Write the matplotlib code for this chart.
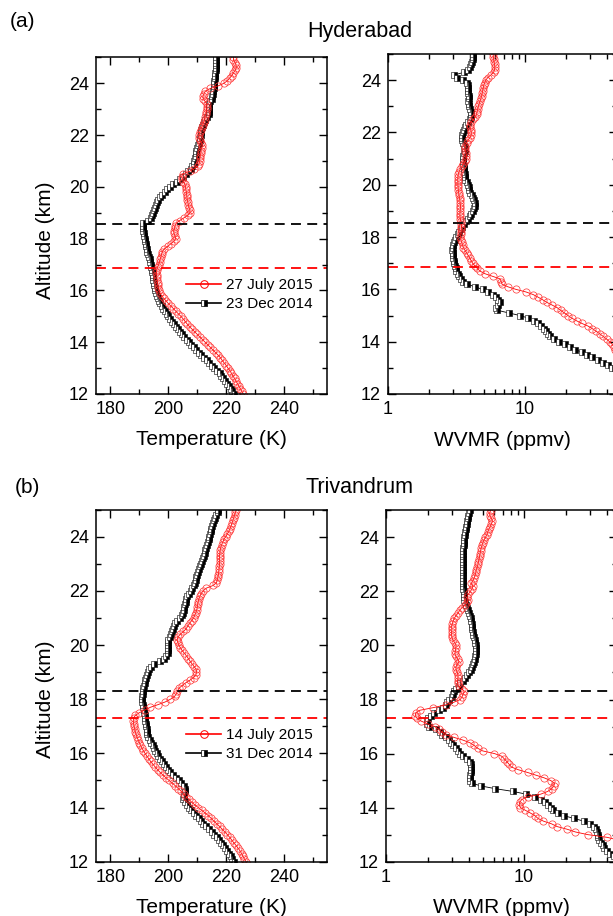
import matplotlib
matplotlib.use('Agg')
import matplotlib.pyplot as plt
from matplotlib.ticker import MultipleLocator, FixedLocator, FixedFormatter, LogLocator, NullFormatter

plt.rcParams['font.family'] = ['Liberation Sans', 'DejaVu Sans']

# ---------------- data ----------------
# altitude levels (km), shared by every profile
alt = [12.0, 12.1, 12.2, 12.3, 12.4, 12.5, 12.6, 12.7, 12.8, 12.9,
       13.0, 13.1, 13.2, 13.3, 13.4, 13.5, 13.6, 13.7, 13.8, 13.9,
       14.0, 14.1, 14.2, 14.3, 14.4, 14.5, 14.6, 14.7, 14.8, 14.9,
       15.0, 15.1, 15.2, 15.3, 15.4, 15.5, 15.6, 15.7, 15.8, 15.9,
       16.0, 16.1, 16.2, 16.3, 16.4, 16.5, 16.6, 16.7, 16.8, 16.9,
       17.0, 17.1, 17.2, 17.3, 17.4, 17.5, 17.6, 17.7, 17.8, 17.9,
       18.0, 18.1, 18.2, 18.3, 18.4, 18.5, 18.6, 18.7, 18.8, 18.9,
       19.0, 19.1, 19.2, 19.3, 19.4, 19.5, 19.6, 19.7, 19.8, 19.9,
       20.0, 20.1, 20.2, 20.3, 20.4, 20.5, 20.6, 20.7, 20.8, 20.9,
       21.0, 21.1, 21.2, 21.3, 21.4, 21.5, 21.6, 21.7, 21.8, 21.9,
       22.0, 22.1, 22.2, 22.3, 22.4, 22.5, 22.6, 22.7, 22.8, 22.9,
       23.0, 23.1, 23.2, 23.3, 23.4, 23.5, 23.6, 23.7, 23.8, 23.9,
       24.0, 24.1, 24.2, 24.3, 24.4, 24.5, 24.6, 24.7, 24.8, 24.9,
       25.0]

# Hyderabad temperature (K)
hyd_temp_jul = [226.0, 225.5, 225.0, 224.5, 224.0, 223.5, 223.0, 222.4, 221.9, 221.4,
                220.7, 220.1, 219.4, 218.7, 218.1, 217.3, 216.4, 215.5, 214.6, 213.7,
                212.8, 211.9, 211.0, 210.1, 209.2, 208.3, 207.4, 206.6, 205.9, 205.2,
                204.4, 203.5, 202.6, 201.8, 200.9, 200.0, 199.2, 198.4, 197.7, 197.2,
                196.9, 196.6, 196.4, 196.3, 196.2, 196.1, 196.0, 195.9, 196.0, 196.3,
                196.7, 197.0, 197.2, 197.5, 197.7, 198.0, 198.6, 199.8, 200.9, 202.0,
                202.6, 202.4, 202.0, 201.9, 202.2, 202.4, 202.8, 204.0, 205.4, 206.8,
                207.6, 207.5, 207.2, 207.0, 206.8, 206.6, 206.5, 206.4, 206.3, 206.1,
                206.0, 205.8, 205.3, 204.9, 204.7, 205.0, 207.4, 209.0, 210.3, 210.7,
                210.9, 211.0, 211.1, 211.3, 211.4, 211.6, 211.8, 211.5, 211.0, 210.6,
                210.7, 210.9, 211.3, 211.6, 212.0, 212.3, 212.6, 212.8, 213.0, 213.2,
                213.3, 213.4, 213.3, 212.8, 212.2, 212.0, 212.4, 212.9, 214.6, 217.3,
                219.3, 220.5, 221.3, 222.0, 222.6, 223.2, 223.6, 223.5, 223.2, 222.6,
                222.6]
hyd_temp_dec = [222.8, 222.2, 221.6, 221.0, 220.3, 219.6, 219.0, 218.4, 217.8, 216.9,
                216.0, 215.1, 214.2, 213.3, 212.4, 211.5, 210.6, 209.7, 208.8, 208.0,
                207.2, 206.4, 205.6, 204.8, 204.1, 203.4, 202.7, 202.0, 201.3, 200.7,
                200.1, 199.5, 198.9, 198.3, 197.7, 197.1, 196.7, 196.3, 196.0, 195.7,
                195.4, 195.3, 195.1, 195.0, 194.8, 194.7, 194.6, 194.5, 194.3, 194.2,
                194.0, 193.8, 193.6, 193.3, 193.0, 192.8, 192.6, 192.4, 192.2, 192.0,
                191.8, 191.6, 191.5, 191.4, 191.3, 191.3, 191.4, 193.0, 194.0, 194.4,
                194.8, 195.2, 195.5, 195.8, 196.2, 196.6, 197.2, 198.0, 198.8, 199.6,
                200.8, 201.8, 202.9, 204.2, 205.3, 206.1, 206.8, 207.8, 208.4, 208.8,
                209.1, 209.3, 209.5, 209.6, 209.7, 210.0, 210.3, 210.6, 210.9, 211.0,
                211.2, 211.4, 211.5, 211.8, 212.1, 212.4, 212.8, 213.4, 214.0, 214.1,
                214.2, 214.3, 214.3, 214.6, 215.0, 215.3, 215.5, 215.6, 215.7, 215.8,
                215.9, 216.0, 216.1, 216.2, 216.3, 216.4, 216.4, 216.5, 216.5, 216.6,
                216.6]

# Hyderabad water vapour mixing ratio (ppmv)
hyd_wv_jul = [95, 92, 89, 86, 82, 78, 74, 70, 66, 63,
              60, 57, 54, 52, 50, 48, 47, 45.5, 44.5, 43.5,
              41.5, 39.5, 37.3, 35.2, 33.1, 31.0, 28.8, 26.0, 23.8, 22.0,
              20.6, 19.4, 18.2, 17.2, 15.8, 14.5, 13.5, 12.5, 11.5, 10.2,
              8.6, 7.5, 6.8, 6.7, 6.6, 5.8, 5.1, 4.7, 4.5, 4.3,
              4.15, 4.05, 3.95, 3.85, 3.75, 3.65, 3.55, 3.5, 3.45, 3.4,
              3.38, 3.4, 3.42, 3.44, 3.44, 3.42, 3.4, 3.37, 3.35, 3.35,
              3.36, 3.38, 3.38, 3.36, 3.35, 3.33, 3.3, 3.28, 3.26, 3.25,
              3.24, 3.24, 3.23, 3.24, 3.26, 3.3, 3.38, 3.46, 3.55, 3.65,
              3.72, 3.74, 3.72, 3.68, 3.64, 3.66, 3.75, 3.85, 3.95, 4.05,
              4.06, 4.02, 3.98, 3.96, 4.05, 4.2, 4.35, 4.43, 4.48, 4.52,
              4.57, 4.63, 4.7, 4.77, 4.83, 4.87, 4.91, 4.95, 5.0, 5.08,
              5.18, 5.35, 5.65, 5.9, 6.0, 6.03, 6.0, 5.95, 5.9, 5.87,
              5.85]
hyd_wv_dec = [95, 90, 86, 82, 77, 72, 66, 59, 53, 47,
              43.5, 40.5, 37.0, 34.0, 31.0, 28.5, 26.0, 23.3, 21.3, 19.6,
              17.6, 16.2, 15.3, 14.8, 14.2, 13.7, 13.1, 12.4, 11.6, 10.6,
              9.2, 7.6, 6.3, 6.1, 6.4, 6.6, 6.4, 6.1, 5.8, 5.4,
              4.9, 4.3, 3.8, 3.5, 3.4, 3.3, 3.22, 3.16, 3.12, 3.08,
              3.05, 3.03, 3.0, 2.98, 2.96, 2.95, 2.96, 3.0, 3.05, 3.1,
              3.15, 3.22, 3.3, 3.4, 3.48, 3.58, 3.7, 3.82, 3.95, 4.07,
              4.18, 4.26, 4.31, 4.3, 4.25, 4.17, 4.08, 4.0, 3.93, 3.88,
              3.82, 3.75, 3.68, 3.64, 3.62, 3.6, 3.58, 3.56, 3.54, 3.52,
              3.52, 3.55, 3.6, 3.63, 3.64, 3.6, 3.54, 3.48, 3.45, 3.46,
              3.52, 3.58, 3.62, 3.7, 3.85, 3.95, 4.02, 4.06, 4.05, 3.95,
              3.9, 3.88, 3.87, 3.88, 3.88, 3.87, 3.86, 3.85, 3.82, 3.78,
              3.5, 3.2, 3.05, 3.6, 3.85, 3.98, 4.06, 4.1, 4.14, 4.17,
              4.19]

# Trivandrum temperature (K)
tvm_temp_jul = [227.0, 226.4, 225.9, 225.4, 224.9, 224.2, 223.5, 222.7, 222.0, 221.3,
                220.5, 219.6, 218.7, 217.8, 216.8, 215.8, 214.9, 213.9, 212.8, 211.6,
                210.4, 209.2, 208.1, 207.2, 206.3, 205.4, 204.5, 203.5, 202.5, 201.5,
                200.3, 199.2, 198.2, 197.2, 196.3, 195.5, 194.7, 193.9, 193.3, 192.6,
                192.0, 191.4, 190.9, 190.4, 190.0, 189.6, 189.2, 188.9, 188.6, 188.4,
                188.2, 188.0, 187.9, 188.0, 188.6, 190.0, 191.9, 193.8, 196.5, 199.0,
                200.8, 202.2, 202.8, 203.2, 203.7, 204.8, 206.0, 207.5, 208.8, 209.6,
                209.8, 209.7, 209.0, 208.3, 207.6, 207.0, 206.3, 205.6, 204.8, 204.2,
                203.7, 203.3, 203.1, 203.4, 204.2, 205.3, 206.2, 206.8, 207.4, 208.1,
                208.8, 209.2, 209.6, 209.9, 210.1, 210.2, 210.4, 210.6, 211.0, 211.4,
                212.1, 213.2, 215.6, 216.7, 217.0, 217.2, 217.4, 217.5, 217.6, 217.7,
                217.8, 217.8, 217.8, 217.8, 217.9, 218.0, 218.2, 218.5, 218.9, 219.3,
                219.9, 220.5, 221.0, 221.4, 221.8, 222.1, 222.4, 222.7, 223.0, 223.3,
                223.6]
tvm_temp_dec = [222.8, 222.2, 221.6, 220.9, 220.3, 219.6, 218.9, 218.2, 217.5, 216.8,
                215.9, 215.0, 214.1, 213.1, 212.2, 211.4, 210.6, 209.8, 209.0, 208.0,
                207.2, 206.4, 205.7, 205.2, 205.4, 205.6, 205.7, 205.8, 205.4, 204.5,
                203.6, 202.7, 201.7, 200.8, 200.0, 199.2, 198.4, 197.7, 197.1, 196.6,
                196.2, 195.6, 195.1, 194.6, 194.1, 193.6, 193.1, 192.8, 192.6, 192.5,
                192.4, 192.2, 192.1, 192.0, 191.8, 191.6, 191.5, 191.3, 191.2, 191.1,
                191.1, 191.1, 191.2, 191.2, 191.3, 191.5, 191.8, 192.1, 192.4, 192.8,
                193.1, 193.4, 194.0, 195.2, 197.3, 198.6, 199.3, 199.8, 199.9, 199.9,
                199.9, 199.9, 200.0, 200.5, 201.0, 201.4, 201.7, 202.0, 202.3, 203.2,
                204.2, 204.8, 205.1, 205.4, 205.6, 205.8, 206.0, 206.2, 206.5, 207.2,
                207.8, 208.4, 208.8, 209.2, 209.5, 209.8, 210.1, 210.4, 210.7, 211.0,
                211.3, 211.7, 212.0, 212.3, 212.6, 212.9, 213.2, 213.5, 213.8, 214.1,
                214.3, 214.5, 214.7, 214.9, 215.2, 215.5, 215.9, 216.3, 216.7, 217.1,
                217.4]

# Trivandrum water vapour mixing ratio (ppmv)
tvm_wv_jul = [95, 90, 85, 80, 74, 68, 62, 55, 48, 40,
              29, 23.5, 20.5, 17.3, 15.8, 13.8, 12.6, 12.0, 11.1, 10.2,
              9.4, 9.2, 9.3, 9.6, 10.6, 13.2, 14.8, 15.8, 16.4, 16.6,
              15.6, 14.0, 12.2, 10.6, 9.1, 8.1, 7.8, 7.5, 7.2, 6.9,
              6.1, 5.0, 4.6, 4.35, 4.05, 3.6, 3.1, 2.7, 2.55, 2.4,
              2.25, 2.0, 1.8, 1.68, 1.63, 1.64, 1.75, 2.2, 2.7, 3.1,
              3.45, 3.55, 3.62, 3.68, 3.55, 3.35, 3.3, 3.3, 3.32, 3.32,
              3.28, 3.22, 3.2, 3.28, 3.38, 3.3, 3.2, 3.15, 3.18, 3.2,
              3.22, 3.15, 3.05, 3.0, 2.98, 2.98, 3.0, 2.98, 3.02, 3.06,
              3.12, 3.2, 3.33, 3.41, 3.55, 3.75, 3.88, 3.9, 3.85, 3.95,
              4.08, 4.2, 4.25, 4.15, 4.25, 4.35, 4.42, 4.47, 4.5, 4.58,
              4.63, 4.67, 4.72, 4.76, 4.8, 4.85, 4.88, 4.95, 5.02, 5.12,
              5.25, 5.38, 5.45, 5.55, 5.68, 5.8, 5.9, 5.8, 5.65, 5.62,
              5.72]
tvm_wv_dec = [56, 50, 45, 42, 40, 38, 37, 36, 35, 34.5,
              34, 33.5, 33, 32, 30, 27, 23, 19.5, 17.5, 16.3,
              15.6, 14.8, 14.2, 13.3, 12.0, 10.3, 8.3, 6.2, 4.9, 4.2,
              4.05, 4.05, 4.08, 4.1, 4.12, 4.12, 4.12, 4.05, 3.85, 3.6,
              3.45, 3.3, 3.2, 3.05, 2.95, 2.85, 2.7, 2.55, 2.45, 2.3,
              2.05, 1.97, 1.98, 2.02, 2.12, 2.22, 2.42, 2.6, 2.7, 2.78,
              2.88, 2.98, 3.05, 3.12, 3.22, 3.35, 3.45, 3.58, 3.72, 3.85,
              3.98, 4.1, 4.2, 4.28, 4.35, 4.4, 4.44, 4.46, 4.47, 4.47,
              4.46, 4.43, 4.38, 4.33, 4.28, 4.25, 4.22, 4.2, 4.17, 4.15,
              4.12, 4.05, 3.98, 3.9, 3.84, 3.78, 3.74, 3.7, 3.68, 3.66,
              3.64, 3.62, 3.61, 3.6, 3.6, 3.59, 3.59, 3.58, 3.58, 3.58,
              3.58, 3.59, 3.6, 3.6, 3.61, 3.62, 3.63, 3.65, 3.66, 3.68,
              3.7, 3.72, 3.74, 3.77, 3.8, 3.83, 3.86, 3.9, 3.95, 4.0,
              4.07]

# tropopause heights (km) shown as dashed lines
hyd_trop_jul = 16.85
hyd_trop_dec = 18.55
tvm_trop_jul = 17.3
tvm_trop_dec = 18.3

hyd_labels = ['27 July 2015', '23 Dec 2014']
tvm_labels = ['14 July 2015', '31 Dec 2014']

# ---------------- figure ----------------
W, H = 613, 916
fig = plt.figure(figsize=(W / 100, H / 100), dpi=100)


def add_ax(l, r, t, b):
    # axes from pixel edges
    return fig.add_axes([l / W, 1 - b / H, (r - l) / W, (b - t) / H])


def style_ax(ax):
    ax.set_ylim(12, 25)
    ax.yaxis.set_major_locator(MultipleLocator(2))
    ax.yaxis.set_minor_locator(MultipleLocator(1))
    ax.tick_params(which='both', direction='in', top=True, right=True,
                   labelsize=13, width=1, pad=5)
    ax.tick_params(which='major', length=6)
    ax.tick_params(which='minor', length=3.5)
    for s in ax.spines.values():
        s.set_linewidth(1.1)


def plot_pair(ax, x_jul, x_dec):
    ax.plot(x_dec, alt, color='black', lw=0.6, marker='s', ms=3.8,
            fillstyle='right', markerfacecolor='black', markerfacecoloralt='white',
            markeredgecolor='black', markeredgewidth=0.4)
    ax.plot(x_jul, alt, color='red', lw=0.6, marker='o', ms=5.2,
            markerfacecolor='none', markeredgecolor='#ff3030', markeredgewidth=0.5)


def draw_row(top, bottom, rtop, rleft, t_jul, t_dec, w_jul, w_dec,
             trop_jul, trop_dec, labels, lab_y, leg_y, xlab_y):
    axt = add_ax(96, 327, top, bottom)
    axw = add_ax(rleft, 617, rtop, bottom)

    plot_pair(axt, t_jul, t_dec)
    plot_pair(axw, w_jul, w_dec)

    for ax in (axt, axw):
        ax.axhline(trop_dec, color='black', lw=1.3, ls=(0, (5.5, 3.5)))
        ax.axhline(trop_jul, color='red', lw=1.3, ls=(0, (5.5, 3.5)))
        style_ax(ax)

    axt.set_xlim(175, 255)
    axt.xaxis.set_major_locator(MultipleLocator(20))
    axt.xaxis.set_minor_locator(MultipleLocator(10))
    axt.set_xlabel('Temperature (K)', fontsize=15)
    axt.set_ylabel('Altitude (km)', fontsize=15)
    axt.yaxis.set_label_coords(-0.177, lab_y)
    axt.xaxis.set_label_coords(0.5, xlab_y)

    axw.set_xscale('log')
    axw.set_xlim(1, 47)
    axw.xaxis.set_major_locator(FixedLocator([1, 10]))
    axw.xaxis.set_major_formatter(FixedFormatter(['1', '10']))
    axw.xaxis.set_minor_locator(LogLocator(base=10, subs=range(2, 10)))
    axw.xaxis.set_minor_formatter(NullFormatter())
    axw.set_xlabel('WVMR (ppmv)', fontsize=15)
    axw.xaxis.set_label_coords(0.5, xlab_y)

    h_dec, = axt.plot([], [], color='black', lw=1.2, marker='s', ms=4,
                      fillstyle='right', markerfacecolor='black',
                      markerfacecoloralt='white', markeredgecolor='black',
                      markeredgewidth=0.5)
    h_jul, = axt.plot([], [], color='red', lw=1.2, marker='o', ms=5.5,
                      markerfacecolor='none', markeredgecolor='red',
                      markeredgewidth=0.7)
    axt.legend([h_jul, h_dec], labels, loc='upper left',
               bbox_to_anchor=(0.39, leg_y), frameon=False, fontsize=11,
               handlelength=2.3, handletextpad=0.3, labelspacing=0.35,
               borderpad=0, borderaxespad=0, numpoints=1)
    return axt, axw


draw_row(57.4, 394, 54, 388, hyd_temp_jul, hyd_temp_dec, hyd_wv_jul, hyd_wv_dec,
         hyd_trop_jul, hyd_trop_dec, hyd_labels, 0.457, 0.345, -0.108)
draw_row(509.6, 861.7, 510.3, 386, tvm_temp_jul, tvm_temp_dec, tvm_wv_jul, tvm_wv_dec,
         tvm_trop_jul, tvm_trop_dec, tvm_labels, 0.46, 0.38, -0.103)

fig.text(10 / W, 1 - 21.5 / H, '(a)', fontsize=15, va='center', ha='left')
fig.text(360 / W, 1 - 31 / H, 'Hyderabad', fontsize=15.5, va='center', ha='center')
fig.text(15 / W, 1 - 487 / H, '(b)', fontsize=15, va='center', ha='left')
fig.text(360 / W, 1 - 487 / H, 'Trivandrum', fontsize=15.5, va='center', ha='center')

fig.savefig('out.png', dpi=100)
